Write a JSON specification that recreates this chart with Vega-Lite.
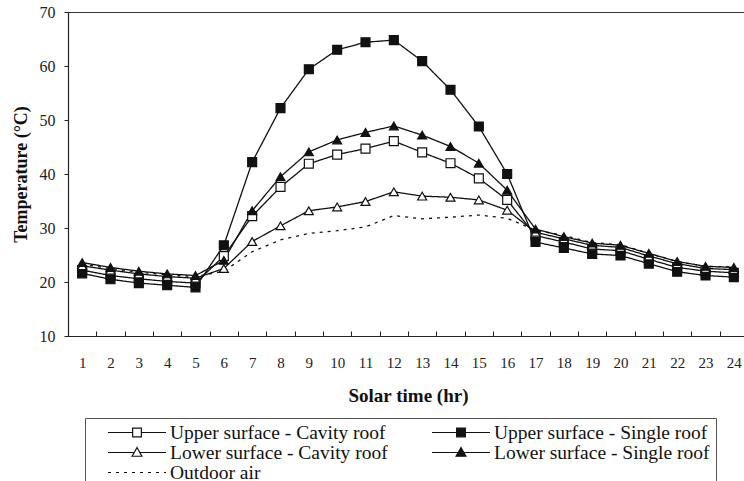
{
  "$schema": "https://vega.github.io/schema/vega-lite/v6.json",
  "width": 680,
  "height": 324,
  "autosize": {"type": "none"},
  "padding": {"left": 68, "top": 12, "right": 0, "bottom": 145},
  "background": "white",
  "config": {
    "font": "Liberation Serif",
    "view": {"stroke": "#333", "strokeWidth": 1},
    "axis": {"grid": false, "domainColor": "#222", "tickColor": "#222", "labelColor": "#222", "titleColor": "#111", "labelFont": "Liberation Serif", "titleFont": "Liberation Serif"}
  },
  "datasets": {
    "temps": [
      {"hour": 1, "series": "Upper surface - Single roof", "temp": 21.6},
      {"hour": 2, "series": "Upper surface - Single roof", "temp": 20.5},
      {"hour": 3, "series": "Upper surface - Single roof", "temp": 19.8},
      {"hour": 4, "series": "Upper surface - Single roof", "temp": 19.4},
      {"hour": 5, "series": "Upper surface - Single roof", "temp": 19.0},
      {"hour": 6, "series": "Upper surface - Single roof", "temp": 26.8},
      {"hour": 7, "series": "Upper surface - Single roof", "temp": 42.2},
      {"hour": 8, "series": "Upper surface - Single roof", "temp": 52.2},
      {"hour": 9, "series": "Upper surface - Single roof", "temp": 59.4},
      {"hour": 10, "series": "Upper surface - Single roof", "temp": 63.0},
      {"hour": 11, "series": "Upper surface - Single roof", "temp": 64.4},
      {"hour": 12, "series": "Upper surface - Single roof", "temp": 64.8},
      {"hour": 13, "series": "Upper surface - Single roof", "temp": 60.9},
      {"hour": 14, "series": "Upper surface - Single roof", "temp": 55.6},
      {"hour": 15, "series": "Upper surface - Single roof", "temp": 48.8},
      {"hour": 16, "series": "Upper surface - Single roof", "temp": 40.0},
      {"hour": 17, "series": "Upper surface - Single roof", "temp": 27.4},
      {"hour": 18, "series": "Upper surface - Single roof", "temp": 26.3},
      {"hour": 19, "series": "Upper surface - Single roof", "temp": 25.2},
      {"hour": 20, "series": "Upper surface - Single roof", "temp": 24.9},
      {"hour": 21, "series": "Upper surface - Single roof", "temp": 23.4},
      {"hour": 22, "series": "Upper surface - Single roof", "temp": 21.9},
      {"hour": 23, "series": "Upper surface - Single roof", "temp": 21.2},
      {"hour": 24, "series": "Upper surface - Single roof", "temp": 20.9},
      {"hour": 1, "series": "Upper surface - Cavity roof", "temp": 22.2},
      {"hour": 2, "series": "Upper surface - Cavity roof", "temp": 21.2},
      {"hour": 3, "series": "Upper surface - Cavity roof", "temp": 20.6},
      {"hour": 4, "series": "Upper surface - Cavity roof", "temp": 20.1},
      {"hour": 5, "series": "Upper surface - Cavity roof", "temp": 19.8},
      {"hour": 6, "series": "Upper surface - Cavity roof", "temp": 24.8},
      {"hour": 7, "series": "Upper surface - Cavity roof", "temp": 32.2},
      {"hour": 8, "series": "Upper surface - Cavity roof", "temp": 37.6},
      {"hour": 9, "series": "Upper surface - Cavity roof", "temp": 41.9},
      {"hour": 10, "series": "Upper surface - Cavity roof", "temp": 43.6},
      {"hour": 11, "series": "Upper surface - Cavity roof", "temp": 44.7},
      {"hour": 12, "series": "Upper surface - Cavity roof", "temp": 46.1},
      {"hour": 13, "series": "Upper surface - Cavity roof", "temp": 44.0},
      {"hour": 14, "series": "Upper surface - Cavity roof", "temp": 42.0},
      {"hour": 15, "series": "Upper surface - Cavity roof", "temp": 39.2},
      {"hour": 16, "series": "Upper surface - Cavity roof", "temp": 35.2},
      {"hour": 17, "series": "Upper surface - Cavity roof", "temp": 28.6},
      {"hour": 18, "series": "Upper surface - Cavity roof", "temp": 27.4},
      {"hour": 19, "series": "Upper surface - Cavity roof", "temp": 26.1},
      {"hour": 20, "series": "Upper surface - Cavity roof", "temp": 25.8},
      {"hour": 21, "series": "Upper surface - Cavity roof", "temp": 24.2},
      {"hour": 22, "series": "Upper surface - Cavity roof", "temp": 22.7},
      {"hour": 23, "series": "Upper surface - Cavity roof", "temp": 22.0},
      {"hour": 24, "series": "Upper surface - Cavity roof", "temp": 21.7},
      {"hour": 1, "series": "Lower surface - Single roof", "temp": 23.6},
      {"hour": 2, "series": "Lower surface - Single roof", "temp": 22.7},
      {"hour": 3, "series": "Lower surface - Single roof", "temp": 22.0},
      {"hour": 4, "series": "Lower surface - Single roof", "temp": 21.5},
      {"hour": 5, "series": "Lower surface - Single roof", "temp": 21.2},
      {"hour": 6, "series": "Lower surface - Single roof", "temp": 24.0},
      {"hour": 7, "series": "Lower surface - Single roof", "temp": 33.2},
      {"hour": 8, "series": "Lower surface - Single roof", "temp": 39.5},
      {"hour": 9, "series": "Lower surface - Single roof", "temp": 44.1},
      {"hour": 10, "series": "Lower surface - Single roof", "temp": 46.3},
      {"hour": 11, "series": "Lower surface - Single roof", "temp": 47.7},
      {"hour": 12, "series": "Lower surface - Single roof", "temp": 48.9},
      {"hour": 13, "series": "Lower surface - Single roof", "temp": 47.2},
      {"hour": 14, "series": "Lower surface - Single roof", "temp": 45.1},
      {"hour": 15, "series": "Lower surface - Single roof", "temp": 42.0},
      {"hour": 16, "series": "Lower surface - Single roof", "temp": 37.0},
      {"hour": 17, "series": "Lower surface - Single roof", "temp": 29.8},
      {"hour": 18, "series": "Lower surface - Single roof", "temp": 28.4},
      {"hour": 19, "series": "Lower surface - Single roof", "temp": 27.2},
      {"hour": 20, "series": "Lower surface - Single roof", "temp": 26.8},
      {"hour": 21, "series": "Lower surface - Single roof", "temp": 25.3},
      {"hour": 22, "series": "Lower surface - Single roof", "temp": 23.8},
      {"hour": 23, "series": "Lower surface - Single roof", "temp": 22.9},
      {"hour": 24, "series": "Lower surface - Single roof", "temp": 22.7},
      {"hour": 1, "series": "Lower surface - Cavity roof", "temp": 23.0},
      {"hour": 2, "series": "Lower surface - Cavity roof", "temp": 22.2},
      {"hour": 3, "series": "Lower surface - Cavity roof", "temp": 21.5},
      {"hour": 4, "series": "Lower surface - Cavity roof", "temp": 21.0},
      {"hour": 5, "series": "Lower surface - Cavity roof", "temp": 20.7},
      {"hour": 6, "series": "Lower surface - Cavity roof", "temp": 22.5},
      {"hour": 7, "series": "Lower surface - Cavity roof", "temp": 27.5},
      {"hour": 8, "series": "Lower surface - Cavity roof", "temp": 30.4},
      {"hour": 9, "series": "Lower surface - Cavity roof", "temp": 33.2},
      {"hour": 10, "series": "Lower surface - Cavity roof", "temp": 33.9},
      {"hour": 11, "series": "Lower surface - Cavity roof", "temp": 34.9},
      {"hour": 12, "series": "Lower surface - Cavity roof", "temp": 36.7},
      {"hour": 13, "series": "Lower surface - Cavity roof", "temp": 35.9},
      {"hour": 14, "series": "Lower surface - Cavity roof", "temp": 35.7},
      {"hour": 15, "series": "Lower surface - Cavity roof", "temp": 35.2},
      {"hour": 16, "series": "Lower surface - Cavity roof", "temp": 33.3},
      {"hour": 17, "series": "Lower surface - Cavity roof", "temp": 29.2},
      {"hour": 18, "series": "Lower surface - Cavity roof", "temp": 28.0},
      {"hour": 19, "series": "Lower surface - Cavity roof", "temp": 26.8},
      {"hour": 20, "series": "Lower surface - Cavity roof", "temp": 26.4},
      {"hour": 21, "series": "Lower surface - Cavity roof", "temp": 24.8},
      {"hour": 22, "series": "Lower surface - Cavity roof", "temp": 23.4},
      {"hour": 23, "series": "Lower surface - Cavity roof", "temp": 22.5},
      {"hour": 24, "series": "Lower surface - Cavity roof", "temp": 22.3},
      {"hour": 1, "series": "Outdoor air", "temp": 23.3},
      {"hour": 2, "series": "Outdoor air", "temp": 22.5},
      {"hour": 3, "series": "Outdoor air", "temp": 21.8},
      {"hour": 4, "series": "Outdoor air", "temp": 21.3},
      {"hour": 5, "series": "Outdoor air", "temp": 21.0},
      {"hour": 6, "series": "Outdoor air", "temp": 22.0},
      {"hour": 7, "series": "Outdoor air", "temp": 25.6},
      {"hour": 8, "series": "Outdoor air", "temp": 27.8},
      {"hour": 9, "series": "Outdoor air", "temp": 29.0},
      {"hour": 10, "series": "Outdoor air", "temp": 29.5},
      {"hour": 11, "series": "Outdoor air", "temp": 30.2},
      {"hour": 12, "series": "Outdoor air", "temp": 32.3},
      {"hour": 13, "series": "Outdoor air", "temp": 31.7},
      {"hour": 14, "series": "Outdoor air", "temp": 32.0},
      {"hour": 15, "series": "Outdoor air", "temp": 32.4},
      {"hour": 16, "series": "Outdoor air", "temp": 31.8},
      {"hour": 17, "series": "Outdoor air", "temp": 29.6},
      {"hour": 18, "series": "Outdoor air", "temp": 28.6},
      {"hour": 19, "series": "Outdoor air", "temp": 27.3},
      {"hour": 20, "series": "Outdoor air", "temp": 26.9},
      {"hour": 21, "series": "Outdoor air", "temp": 25.3},
      {"hour": 22, "series": "Outdoor air", "temp": 23.8},
      {"hour": 23, "series": "Outdoor air", "temp": 22.9},
      {"hour": 24, "series": "Outdoor air", "temp": 22.8}
    ]
  },
  "data": {"name": "temps"},
  "encoding": {
    "x": {
      "field": "hour", "type": "ordinal", "bandPosition": 0.5,
      "scale": {"type": "band", "paddingInner": 0, "paddingOuter": 0},
      "axis": {"title": "Solar time (hr)", "labelAngle": 0, "tickBand": "extent", "tickSize": -5, "labelFontSize": 15, "labelPadding": 24, "titleFontSize": 19, "titleFontWeight": "bold", "titlePadding": 16, "domainWidth": 1.2}
    },
    "y": {
      "field": "temp", "type": "quantitative",
      "scale": {"domain": [10, 70], "nice": false, "zero": false},
      "axis": {"title": "Temperature (°C)", "values": [10, 20, 30, 40, 50, 60, 70], "tickSize": 4, "labelFontSize": 16, "labelPadding": 9, "titleFontSize": 18, "titleFontWeight": "bold", "titlePadding": 9, "domainWidth": 1.2}
    }
  },
  "layer": [
    {
      "mark": {"type": "line", "color": "#111", "strokeWidth": 1.3},
      "encoding": {
        "detail": {"field": "series"},
        "strokeDash": {
          "field": "series", "type": "nominal",
          "scale": {"domain": ["Upper surface - Cavity roof", "Upper surface - Single roof", "Lower surface - Cavity roof", "Lower surface - Single roof", "Outdoor air"], "range": [[1, 0], [1, 0], [1, 0], [1, 0], [3, 5]]},
          "legend": {
            "title": null,
            "orient": "none",
            "direction": "horizontal",
            "legendX": 17,
            "legendY": 406,
            "columns": 2,
            "columnPadding": 27,
            "rowPadding": 0,
            "padding": 6,
            "strokeColor": "#555",
            "fillColor": "white",
            "symbolSize": 3364,
            "symbolOffset": 16,
            "clipHeight": 17,
            "labelFontSize": 19.5,
            "labelFont": "Liberation Serif",
            "labelColor": "#111",
            "labelOffset": 3,
            "labelLimit": 400,
            "labelExpr": "indexof(datum.label, 'Single') >= 0 ? datum.label + '\u00a0\u00a0\u00a0\u00a0' : datum.label",
            "symbolStrokeColor": "#111",
            "symbolStrokeWidth": 1.2,
            "encode": {
              "symbols": {
                "update": {
                  "shape": {"signal": "datum.value === 'Outdoor air' ? 'M-1,0H1' : (indexof(datum.value, 'Upper') === 0 ? 'M-1,0H-0.15M0.15,0H1M-0.15,-0.15H0.15V0.15H-0.15Z' : 'M-1,0H-0.095M0.095,0H1M0,-0.17L0.17,0.13H-0.17Z')"},
                  "fill": {"signal": "indexof(datum.value, 'Single') >= 0 ? '#111' : 'white'"},
                  "stroke": {"value": "#111"},
                  "strokeDash": {"signal": "datum.value === 'Outdoor air' ? [3, 6] : [1, 0]"},
                  "size": {"value": 3364},
                  "opacity": {"value": 1}
                }
              }
            }
          }
        }
      }
    },
    {
      "transform": [{"filter": "datum.series === 'Upper surface - Cavity roof'"}],
      "mark": {"type": "point", "shape": "square", "filled": true, "fill": "white", "stroke": "#111", "strokeWidth": 1.2, "size": 80, "opacity": 1}
    },
    {
      "transform": [{"filter": "datum.series === 'Upper surface - Single roof'"}],
      "mark": {"type": "point", "shape": "square", "filled": true, "fill": "#111", "stroke": "#111", "strokeWidth": 1.2, "size": 80, "opacity": 1}
    },
    {
      "transform": [{"filter": "datum.series === 'Lower surface - Cavity roof'"}],
      "mark": {"type": "point", "shape": "triangle-up", "filled": true, "fill": "white", "stroke": "#111", "strokeWidth": 1.2, "size": 80, "opacity": 1}
    },
    {
      "transform": [{"filter": "datum.series === 'Lower surface - Single roof'"}],
      "mark": {"type": "point", "shape": "triangle-up", "filled": true, "fill": "#111", "stroke": "#111", "strokeWidth": 1.2, "size": 80, "opacity": 1}
    }
  ]
}
